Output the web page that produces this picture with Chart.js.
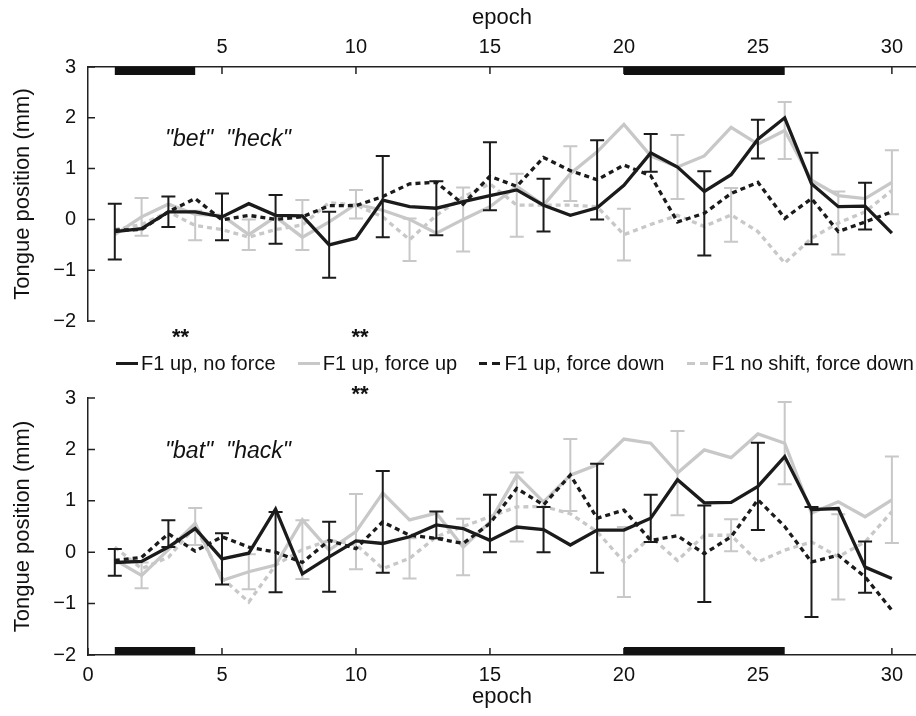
<!DOCTYPE html>
<html>
<head>
<meta charset="utf-8">
<script src="https://cdn.jsdelivr.net/npm/chart.js@4.4.1/dist/chart.umd.min.js"></script>
<style>
  html, body { margin: 0; padding: 0; background: #fff; }
  #wrap { position: relative; width: 916px; height: 716px; overflow: hidden;
          font-family: "Liberation Sans", Arial, sans-serif; }
  #c1 { position: absolute; left: 0; top: 0; }
  #c2 { position: absolute; left: 0; top: 350px; }
  #legend { position: absolute; left: 116px; width: 798px; top: 351px; height: 24px;
            display: flex; justify-content: space-between; align-items: center;
            font-size: 20px; line-height: 24px; color: #111; z-index: 2; }
  #legend .item { display: flex; align-items: center; white-space: nowrap; }
  #legend .sw { display: inline-block; width: 22px; height: 3px; margin-right: 3px; }
</style>
</head>
<body>
<div id="wrap">
  <canvas id="c1" width="916" height="345"></canvas>
  <canvas id="c2" width="916" height="366"></canvas>
  <div id="legend"></div>
</div>
<script>
// ---- data -------------------------------------------------------------
const epochs = [1,2,3,4,5,6,7,8,9,10,11,12,13,14,15,16,17,18,19,20,21,22,23,24,25,26,27,28,29,30];

const seriesNames = ['F1 up, no force', 'F1 up, force up', 'F1 up, force down', 'F1 no shift, force down'];

// "bet" / "heck" condition (mm)
const betNoForce    = [-0.24,-0.18,0.15,0.15,0.05,0.31,0.08,0.07,-0.50,-0.37,0.38,0.25,0.22,0.35,0.47,0.58,0.28,0.08,0.23,0.67,1.31,1.03,0.55,0.88,1.58,2.00,0.70,0.25,0.26,-0.27];
const betForceUp    = [-0.30,0.05,0.30,0.10,0.08,-0.30,0.05,-0.35,-0.05,0.30,0.18,0.00,-0.27,0.00,0.25,0.65,0.28,0.90,1.33,1.87,1.25,1.03,1.25,1.81,1.48,1.75,0.77,0.47,0.41,0.73];
const betForceDown  = [-0.21,-0.20,0.15,0.41,-0.01,0.08,0.00,0.05,0.27,0.27,0.45,0.70,0.73,0.30,0.85,0.65,1.22,0.96,0.78,1.07,0.86,-0.05,0.12,0.51,0.73,0.02,0.41,-0.24,-0.05,0.15];
const betNoShift    = [-0.20,-0.10,0.15,-0.12,-0.20,-0.35,-0.20,-0.11,0.33,0.28,0.05,-0.40,0.08,0.44,0.70,0.28,0.28,0.28,0.25,-0.30,-0.10,0.08,-0.14,0.09,-0.24,-0.86,-0.37,-0.07,0.15,0.57];

// error bar half-widths (mm), one series per epoch in turn
const betNoForceErr   = [0.55,null,null,null,0.46,null,null,null,0.65,null,null,null,0.53,null,null,null,0.52,null,null,null,0.37,null,null,null,0.38,null,null,null,0.46,null];
const betForceUpErr   = [null,0.37,null,null,null,0.30,null,null,null,0.28,null,null,null,0.63,null,null,null,0.54,null,null,null,0.63,null,null,null,0.56,null,null,null,0.63];
const betForceDownErr = [null,null,0.30,null,null,null,0.48,null,null,null,0.80,null,null,null,0.67,null,null,null,0.78,null,null,null,0.83,null,null,null,0.90,null,null,null];
const betNoShiftErr   = [null,null,null,0.29,null,null,null,0.49,null,null,null,0.42,null,null,null,0.62,null,null,null,0.51,null,null,null,0.53,null,null,null,0.62,null,null];

// "bat" / "hack" condition (mm)
const batNoForce    = [-0.20,-0.18,0.10,0.46,-0.13,-0.02,0.84,-0.42,-0.09,0.22,0.17,0.30,0.53,0.46,0.23,0.49,0.44,0.14,0.43,0.43,0.66,1.41,0.96,0.97,1.28,1.86,0.83,0.85,-0.29,-0.51];
const batForceUp    = [-0.15,-0.45,0.05,0.56,-0.55,-0.38,-0.25,0.63,0.04,0.40,1.15,0.63,0.76,0.10,0.59,1.50,0.98,1.50,1.70,2.20,2.12,1.54,1.99,1.84,2.30,2.12,0.76,0.98,0.69,1.02];
const batForceDown  = [-0.16,-0.10,0.36,0.02,0.30,0.10,0.00,-0.20,0.23,0.07,0.59,0.33,0.27,0.17,0.56,1.24,0.92,1.50,0.66,0.82,0.23,0.32,-0.03,0.30,1.02,0.50,-0.19,-0.06,-0.48,-1.13];
const batNoShift    = [0.10,-0.32,-0.10,0.50,-0.50,-0.97,-0.25,0.05,0.23,0.15,-0.32,-0.12,0.30,0.50,0.69,0.88,0.89,0.75,0.40,-0.19,0.30,-0.16,0.33,0.33,-0.19,0.04,0.20,-0.09,0.20,0.79];

const batNoForceErr   = [0.26,null,null,null,0.50,null,null,null,0.68,null,null,null,0.26,null,null,null,0.44,null,null,null,0.46,null,null,null,0.85,null,null,null,0.50,null];
const batForceUpErr   = [null,0.25,null,null,null,0.34,null,null,null,0.73,null,null,null,0.55,null,null,null,0.70,null,null,null,0.82,null,null,null,0.80,null,null,null,0.84];
const batForceDownErr = [null,null,0.26,null,null,null,0.78,null,null,null,0.99,null,null,null,0.56,null,null,null,1.06,null,null,null,0.94,null,null,null,1.07,null,null,null];
const batNoShiftErr   = [null,null,null,0.36,null,null,null,0.57,null,null,null,0.39,null,null,null,0.67,null,null,null,0.68,null,null,null,0.31,null,null,null,0.83,null,null];

// epochs during which the force field was applied
const forcePeriods = [[1, 4], [20, 26]];

// axis ticks
const yTicks = [-2, -1, 0, 1, 2, 3];
const xTicksTop = [5, 10, 15, 20, 25, 30];
const xTicksBottom = [0, 5, 10, 15, 20, 25, 30];

// ---- styling ----------------------------------------------------------
const BLACK = '#1b1b1b';
const GREY = '#c8c8c8';
const FONT = '"Liberation Sans", Arial, sans-serif';
const seriesStyle = [
  { color: BLACK, dash: [],     order: 1 },
  { color: GREY,  dash: [],     order: 3 },
  { color: BLACK, dash: [5, 4], order: 2 },
  { color: GREY,  dash: [5, 4], order: 4 }
];

function minusLabel(v) { return v < 0 ? '\u2212' + Math.abs(v) : String(v); }

function makeDatasets(values, errors) {
  return values.map((vals, k) => ({
    label: seriesNames[k],
    data: epochs.map((e, i) => ({ x: e, y: vals[i] })),
    errorBars: errors[k],
    borderColor: seriesStyle[k].color,
    errorColor: seriesStyle[k].color,
    borderDash: seriesStyle[k].dash,
    order: seriesStyle[k].order,
    borderWidth: 3.3,
    borderCapStyle: 'butt',
    borderJoinStyle: 'miter',
    pointRadius: 0,
    tension: 0,
    fill: false
  }));
}

// vertical error bars with caps, drawn right after each line
const errorBarPlugin = {
  id: 'errorBars',
  afterDatasetDraw(chart, args) {
    const ds = chart.data.datasets[args.index];
    if (!ds.errorBars) return;
    const { ctx, scales: { x, y } } = chart;
    ctx.save();
    ctx.strokeStyle = ds.errorColor;
    ctx.lineWidth = 2;
    ctx.setLineDash([]);
    ctx.beginPath();
    ds.data.forEach((p, i) => {
      const e = ds.errorBars[i];
      if (e == null) return;
      const px = x.getPixelForValue(p.x);
      const y1 = y.getPixelForValue(p.y + e);
      const y2 = y.getPixelForValue(p.y - e);
      ctx.moveTo(px, y1); ctx.lineTo(px, y2);
      ctx.moveTo(px - 7, y1); ctx.lineTo(px + 7, y1);
      ctx.moveTo(px - 7, y2); ctx.lineTo(px + 7, y2);
    });
    ctx.stroke();
    ctx.restore();
  }
};

// inward tick marks, force-period bars and text annotations
const framePlugin = {
  id: 'frame',
  afterDatasetsDraw(chart, args, opts) {
    const { ctx, chartArea: a, scales: { x, y } } = chart;
    ctx.save();
    ctx.strokeStyle = '#222';
    ctx.lineWidth = 1.5;
    ctx.setLineDash([]);
    ctx.beginPath();
    y.ticks.forEach(t => {
      const py = y.getPixelForValue(t.value);
      ctx.moveTo(a.left, py); ctx.lineTo(a.left + 7, py);
    });
    const top = opts.xEdge === 'top';
    const edge = top ? a.top : a.bottom;
    x.ticks.forEach(t => {
      const px = x.getPixelForValue(t.value);
      ctx.moveTo(px, edge); ctx.lineTo(px, edge + (top ? 7 : -7));
    });
    ctx.stroke();

    ctx.fillStyle = '#111';
    const yy = y.getPixelForValue(opts.forceLevel);
    forcePeriods.forEach(([s, e]) => {
      const x1 = x.getPixelForValue(s), x2 = x.getPixelForValue(e);
      ctx.fillRect(x1, top ? yy : yy - 8, x2 - x1, 8);
    });

    (opts.labels || []).forEach(l => {
      ctx.font = l.font;
      ctx.fillStyle = '#111';
      ctx.textAlign = l.align;
      ctx.textBaseline = 'middle';
      ctx.fillText(l.text, x.getPixelForValue(l.x), y.getPixelForValue(l.y));
    });
    ctx.restore();
  }
};

function makeChart(canvas, values, errors, cfg) {
  return new Chart(canvas, {
    type: 'line',
    data: { datasets: makeDatasets(values, errors) },
    plugins: [errorBarPlugin, framePlugin],
    options: {
      responsive: false,
      animation: false,
      events: [],
      layout: { padding: cfg.padding },
      plugins: {
        legend: { display: false },
        tooltip: { enabled: false },
        frame: { xEdge: cfg.xPos, forceLevel: cfg.forceLevel, labels: cfg.labels }
      },
      scales: {
        x: {
          type: 'linear',
          position: cfg.xPos,
          min: 0,
          max: 30.9,
          afterBuildTicks: s => { s.ticks = cfg.xTicks.map(v => ({ value: v })); },
          afterFit: s => { s.height = cfg.xHeight; },
          grid: { display: false, drawTicks: false },
          border: { display: true, color: '#222', width: 1.5 },
          ticks: { autoSkip: false, maxRotation: 0, padding: 8, color: '#111',
                   font: { family: FONT, size: 20 } },
          title: { display: true, text: 'epoch', color: '#111',
                   font: { family: FONT, size: 22 },
                   padding: cfg.xPos === 'top' ? { top: 5, bottom: 0 } : { top: 0, bottom: 6 } }
        },
        y: {
          type: 'linear',
          min: -2,
          max: 3,
          afterBuildTicks: s => { s.ticks = yTicks.map(v => ({ value: v })); },
          afterFit: s => { s.width = 88; },
          grid: { display: false, drawTicks: false },
          border: { display: true, color: '#222', width: 1.5 },
          ticks: { padding: 12, color: '#111', font: { family: FONT, size: 20 },
                   callback: v => minusLabel(v) },
          title: { display: true, text: 'Tongue position (mm)', color: '#111',
                   font: { family: FONT, size: 22 }, padding: { top: 10, bottom: 0 } }
        }
      }
    }
  });
}

const ITALIC = 'italic 23px ' + FONT;
const STARS = 'bold 22px ' + FONT;

makeChart(document.getElementById('c1'),
  [betNoForce, betForceUp, betForceDown, betNoShift],
  [betNoForceErr, betForceUpErr, betForceDownErr, betNoShiftErr],
  {
    xPos: 'top', xTicks: xTicksTop, xHeight: 67, forceLevel: 3,
    padding: { left: 0, right: 0, top: 0, bottom: 21 },
    labels: [
      { text: '"bet"  "heck"', x: 2.87, y: 1.58, align: 'left', font: ITALIC },
      { text: '**', x: 3.45, y: -2.34, align: 'center', font: STARS },
      { text: '**', x: 10.15, y: -2.34, align: 'center', font: STARS }
    ]
  });

makeChart(document.getElementById('c2'),
  [batNoForce, batForceUp, batForceDown, batNoShift],
  [batNoForceErr, batForceUpErr, batForceDownErr, batNoShiftErr],
  {
    xPos: 'bottom', xTicks: xTicksBottom, xHeight: 61, forceLevel: -2,
    padding: { left: 0, right: 0, top: 48, bottom: 0 },
    labels: [
      { text: '"bat"  "hack"', x: 2.87, y: 1.95, align: 'left', font: ITALIC },
      { text: '**', x: 10.15, y: 3.06, align: 'center', font: STARS }
    ]
  });

// legend row shared by both panels
const legend = document.getElementById('legend');
seriesNames.forEach((name, k) => {
  const st = seriesStyle[k];
  const item = document.createElement('span');
  item.className = 'item';
  const sw = document.createElement('span');
  sw.className = 'sw';
  sw.style.background = st.dash.length
    ? 'repeating-linear-gradient(90deg,' + st.color + ' 0 8px, transparent 8px 13px)'
    : st.color;
  item.appendChild(sw);
  item.appendChild(document.createTextNode(name));
  legend.appendChild(item);
});
</script>
</body>
</html>
